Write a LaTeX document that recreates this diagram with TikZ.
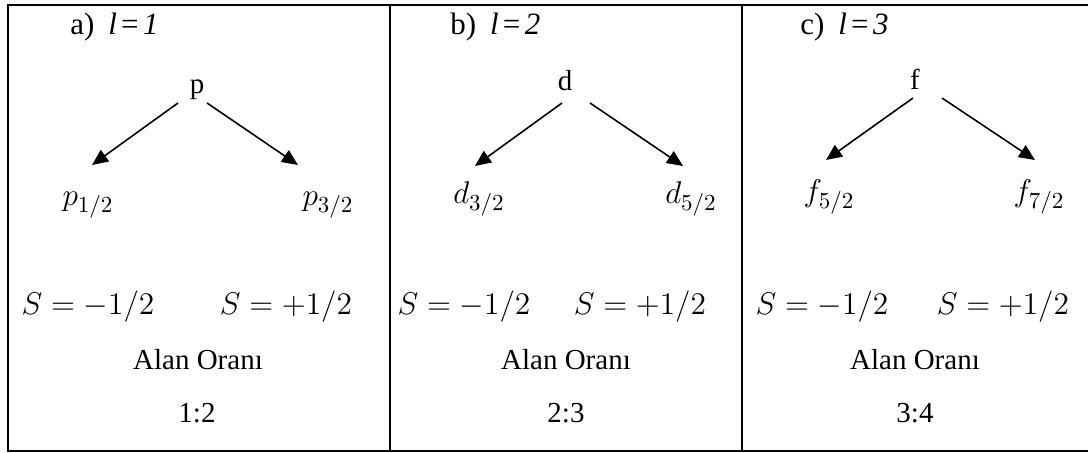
\RequirePackage{fix-cm}
\documentclass[tikz,border=0pt]{standalone}
\usepackage{fontspec}
\setmainfont{Liberation Serif}
\DeclareMathSizes{15.7}{15.7}{11.5}{9}
\usetikzlibrary{arrows.meta}

\begin{document}
\begin{tikzpicture}[
    x=0.5pt, y=-0.5pt,
    font=\fontsize{14.5}{17}\selectfont,
    >={Triangle[length=8pt,width=7pt]},
    txt/.style={inner sep=0pt, anchor=base},
    mth/.style={txt, font=\fontsize{15.7}{18}\selectfont},
    head/.style={inner sep=0pt, anchor=base west, font=\fontsize{15.5}{18}\selectfont},
    arrow/.style={->, line width=0.8pt},
    frame/.style={line width=1pt},
]
    \useasboundingbox (0,0) rectangle (1088,453);

    % table frame
    \draw[frame] (1088,5) -- (8,5) -- (8,451) -- (1088,451);
    \draw[frame] (390,5) -- (390,451);
    \draw[frame] (742,5) -- (742,451);

    % a) l=1
    \node[head] (heada) at (70,35) {a)\hspace{7pt}\textit{l\kern1pt=\kern1.5pt1}};
    \node[txt] (p) at (197,94) {p};
    \node[mth] (p12) at (88,206) {$p_{1/2}$};
    \node[mth] (p32) at (328,206) {$p_{3/2}$};
    \node[mth] (spina1) at (88,315) {$S=-1/2$};
    \node[mth] (spina2) at (286,315) {$S=+1/2$};
    \node[txt] (alana) at (198,370) {Alan Oranı};
    \node[txt] (ratioa) at (197,423) {1:2};

    \draw[arrow] ([shift={(-19,9)}]p.base) -- ([shift={(4,-41)}]p12.base);
    \draw[arrow] ([shift={(10,9)}]p.base) -- ([shift={(-30,-41)}]p32.base);

    % b) l=2
    \node[head] (headb) at (450,35) {b)\hspace{7pt}\textit{l\kern1pt=\kern1.5pt2}};
    \node[txt] (d) at (565,91) {d};
    \node[mth] (d32) at (479,204) {$d_{3/2}$};
    \node[mth] (d52) at (691,204) {$d_{5/2}$};
    \node[mth] (spinb1) at (464,315) {$S=-1/2$};
    \node[mth] (spinb2) at (640,315) {$S=+1/2$};
    \node[txt] (alanb) at (566,370) {Alan Oranı};
    \node[txt] (ratiob) at (566,423) {2:3};

    \draw[arrow] ([shift={(-3,12)}]d.base) -- ([shift={(-4,-38)}]d32.base);
    \draw[arrow] ([shift={(25,12)}]d.base) -- ([shift={(-8,-38)}]d52.base);

    % c) l=3
    \node[head] (headc) at (800,35) {c)\hspace{7pt}\textit{l\kern1pt=\kern1.5pt3}};
    \node[txt] (f) at (915,90) {f};
    \node[mth] (f52) at (829,202) {$f_{5/2}$};
    \node[mth] (f72) at (1039,202) {$f_{7/2}$};
    \node[mth] (spinc1) at (822,315) {$S=-1/2$};
    \node[mth] (spinc2) at (1003,315) {$S=+1/2$};
    \node[txt] (alanc) at (915,370) {Alan Oranı};
    \node[txt] (ratioc) at (915,423) {3:4};

    \draw[arrow] ([shift={(-2,8)}]f.base) -- ([shift={(-3,-42)}]f52.base);
    \draw[arrow] ([shift={(27,8)}]f.base) -- ([shift={(-4,-42)}]f72.base);
\end{tikzpicture}
\end{document}
